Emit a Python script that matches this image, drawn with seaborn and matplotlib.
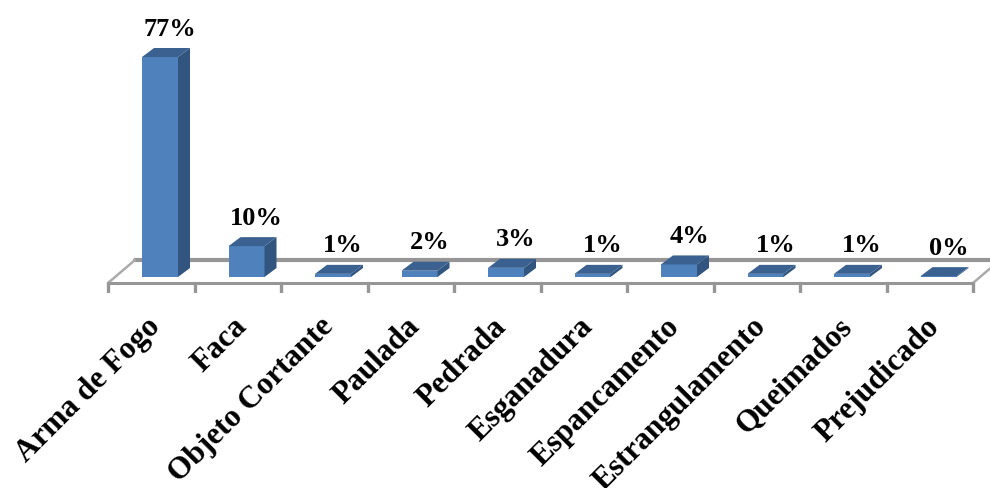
# Instrumentos usados - 3D looking bar chart
import matplotlib
matplotlib.use('Agg')
import pandas as pd
import seaborn as sns
import matplotlib.pyplot as plt
from matplotlib.patches import Polygon
from matplotlib.transforms import ScaledTranslation

# DATA
categories = ['Arma de Fogo', 'Faca', 'Objeto Cortante', 'Paulada', 'Pedrada',
              'Esganadura', 'Espancamento', 'Estrangulamento', 'Queimados', 'Prejudicado']
heights = [77, 10.8, 1.1, 2.2, 3.2, 1.1, 4.4, 1.1, 1.1, 0.3]
labels = ['77%', '10%', '1%', '2%', '3%', '1%', '4%', '1%', '1%', '0%']

df = pd.DataFrame({'tipo': categories, 'valor': heights})

# COLOURS
FRONT = '#4F81BD'
SIDE = '#31557F'
TOP = '#3A6190'
GREY = '#969696'

W, H = 990, 488
PX_X = 86.5   # pixels per category
PX_Y = 2.857  # pixels per percent
BASE = 277    # pixel row of value 0
BOTTOM = 293  # pixel row of the axes bottom

sns.set_theme(style='white')
plt.rcParams['font.family'] = ['Liberation Serif', 'DejaVu Serif']

fig = plt.figure(figsize=(W / 100, H / 100), dpi=100)
ax = fig.add_axes([0, 1 - BOTTOM / H, 1, BOTTOM / H])

sns.barplot(data=df, x='tipo', y='valor', color=FRONT, saturation=1, width=36 / PX_X,
            linewidth=0, ax=ax, zorder=3)

# PIXEL SCALE, FIRST CATEGORY CENTRED ON COLUMN 160
ax.set_xlim(-160 / PX_X, (W - 160) / PX_X)
ax.set_ylim((BASE - BOTTOM) / PX_Y, BASE / PX_Y)
sns.despine(ax=ax, left=True, bottom=True)
ax.set_xlabel('')
ax.set_ylabel('')
ax.set_yticks([])
ax.grid(False)
ax.patch.set_alpha(0)

dx = 12 / PX_X
dy = 9 / PX_Y

# FLOOR OF THE CHART
left = -52 / PX_X
right = left + 10
front = (BASE - 283) / PX_Y
back = (BASE - 260) / PX_Y
back_left = left + 27 / PX_X
ax.plot([left, right], [front, front], color=GREY, lw=2.2, zorder=1)
ax.plot([back_left, right + 27 / PX_X], [back, back], color=GREY, lw=3, zorder=1)
ax.plot([left, back_left], [front, back], color='#ABABAB', lw=1.8, zorder=1)
ax.plot([right, right + 27 / PX_X], [front, back], color='#ABABAB', lw=1.8, zorder=1)
for i in range(11):
    ax.plot([left + i, left + i], [front, (BASE - 292) / PX_Y], color=GREY, lw=2.4, zorder=1)

# SIDE AND TOP OF EACH BAR, AND THE VALUE LABELS
for bar, text in zip(ax.patches, labels):
    x0 = bar.get_x()
    x1 = x0 + bar.get_width()
    y1 = bar.get_height()
    ax.add_patch(Polygon([(x1, 0), (x1 + dx, dy), (x1 + dx, y1 + dy), (x1, y1)],
                         facecolor=SIDE, edgecolor='none', zorder=3))
    ax.add_patch(Polygon([(x0, y1), (x0 + dx, y1 + dy), (x1 + dx, y1 + dy), (x1, y1)],
                         facecolor=TOP, edgecolor='none', zorder=3))
    ax.text((x0 + x1) / 2 + 10 / PX_X, y1 + dy + 19 / PX_Y, text, ha='center', va='center',
            fontsize=19, fontweight='bold', color='black', zorder=4)

# ROTATED CATEGORY LABELS
ax.tick_params(axis='x', length=0, pad=14)
ax.set_xticks(range(len(categories)))
ax.set_xticklabels(categories, rotation=45, ha='right', rotation_mode='anchor',
                   fontsize=22.5, fontweight='bold', color='black')
shift = ScaledTranslation(-14 / 100, 0, fig.dpi_scale_trans)
for tick_label in ax.get_xticklabels():
    tick_label.set_transform(tick_label.get_transform() + shift)

fig.savefig('out.png', dpi=100)
